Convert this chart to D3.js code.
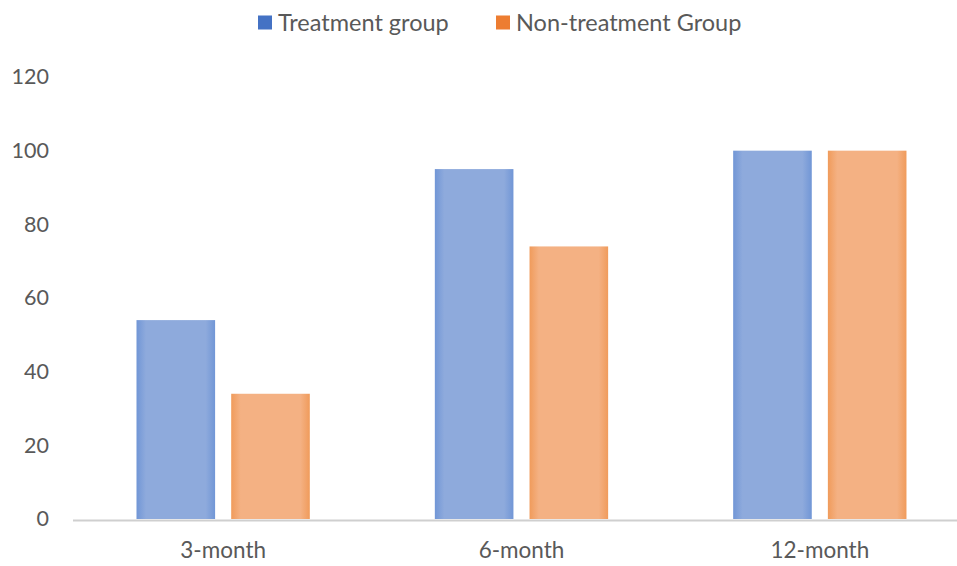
<!DOCTYPE html>
<html>
<head>
<meta charset="utf-8">
<script src="https://cdn.jsdelivr.net/npm/d3@7"></script>
<style>
  body { margin: 0; background: #fff; }
  svg { display: block; }
  text { font-family: Lato, "Open Sans", sans-serif; fill: #595959; }
</style>
</head>
<body>
<svg id="chart" width="957" height="566"></svg>
<script>
const categories = ["3-month", "6-month", "12-month"];
const seriesNames = ["Treatment group", "Non-treatment Group"];
const treatment = [54, 95, 100];
const nonTreatment = [34, 74, 100];
const yTicks = [0, 20, 40, 60, 80, 100, 120];

const seriesValues = [treatment, nonTreatment];
const colors = {
  "Treatment group": { edge: "#7196d6", mid: "#8eaadc", legend: "#4472c4" },
  "Non-treatment Group": { edge: "#f09b5b", mid: "#f4b183", legend: "#ed7d31" }
};

const svg = d3.select("#chart");
const W = 957, H = 566;

const x0 = d3.scaleBand().domain(categories).range([74, 969]).paddingInner(0).paddingOuter(0);
const x1 = d3.scaleBand().domain(seriesNames).range([62.5, 235.8]).paddingInner(0.17).paddingOuter(0);
const y = d3.scaleLinear().domain([0, 120]).range([519, 77]);

// gradients
const defs = svg.append("defs");
seriesNames.forEach((s, i) => {
  const g = defs.append("linearGradient").attr("id", "grad" + i)
    .attr("x1", "0%").attr("x2", "100%").attr("y1", "0%").attr("y2", "0%");
  g.append("stop").attr("offset", "0%").attr("stop-color", colors[s].edge);
  g.append("stop").attr("offset", "12%").attr("stop-color", colors[s].mid);
  g.append("stop").attr("offset", "88%").attr("stop-color", colors[s].mid);
  g.append("stop").attr("offset", "100%").attr("stop-color", colors[s].edge);
});

// y tick labels (no gridlines)
const yAxis = d3.axisLeft(y).tickValues(yTicks).tickSize(0).tickPadding(0);
const yg = svg.append("g").attr("transform", "translate(49,0)").call(yAxis);
yg.select(".domain").remove();
yg.selectAll("text").style("font-size", "21.5px").attr("fill", "#595959")
  .style("font-family", "Lato, 'Open Sans', sans-serif");

// bars
const data = [];
categories.forEach((c, ci) => {
  seriesNames.forEach((s, si) => {
    data.push({ cat: c, series: s, si, value: seriesValues[si][ci] });
  });
});

svg.append("g").selectAll("rect").data(data).join("rect")
  .attr("x", d => x0(d.cat) + x1(d.series))
  .attr("width", x1.bandwidth())
  .attr("y", d => y(d.value))
  .attr("height", d => y(0) - y(d.value))
  .attr("fill", d => `url(#grad${d.si})`);

// x axis
const xAxis = d3.axisBottom(x0).tickSize(0).tickPadding(23);
const xg = svg.append("g").attr("transform", `translate(0,${y(0)})`).call(xAxis);
xg.select(".domain").remove();
xg.selectAll("text").style("font-size", "22.5px").attr("fill", "#595959")
  .style("font-family", "Lato, 'Open Sans', sans-serif");

svg.append("line")
  .attr("x1", 73).attr("x2", W)
  .attr("y1", y(0) + 1.5).attr("y2", y(0) + 1.5)
  .attr("stroke", "#cfcfcf").attr("stroke-width", 2.2);

// legend
const legendItems = [
  { name: seriesNames[0], x: 258 },
  { name: seriesNames[1], x: 496 }
];
const lg = svg.append("g");
legendItems.forEach(it => {
  lg.append("rect").attr("x", it.x).attr("y", 15.5).attr("width", 14).attr("height", 14)
    .attr("fill", colors[it.name].legend);
  lg.append("text").attr("x", it.x + 20).attr("y", 30.5)
    .style("font-size", "23.5px").text(it.name);
});
</script>
</body>
</html>
